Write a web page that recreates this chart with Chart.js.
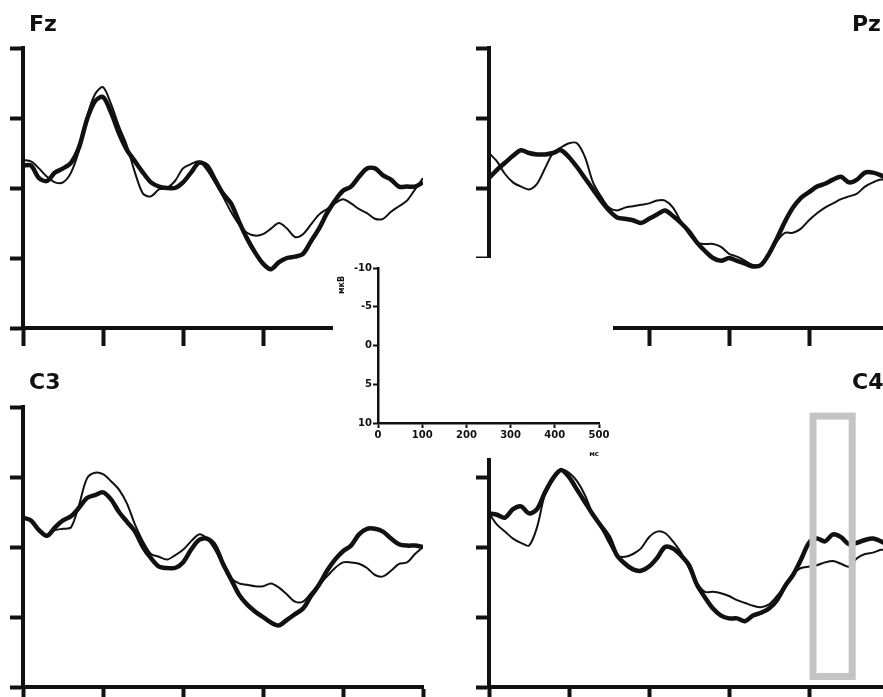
<!DOCTYPE html>
<html lang="ru">
<head>
<meta charset="UTF-8">
<title>ВП: Fz, Pz, C3, C4</title>
<script src="https://cdn.jsdelivr.net/npm/chart.js"></script>
<style>
  html, body { margin: 0; padding: 0; background: #fff; }
  body {
    width: 883px; height: 697px;
    position: relative; overflow: hidden;
    font-family: "DejaVu Sans", Verdana, sans-serif;
  }
  .panel { position: absolute; }
  .lbl {
    position: absolute;
    font-weight: bold; font-size: 22px; line-height: 1;
    color: #111;
  }
  #legendBox { position: absolute; left: 333px; top: 258px; width: 280px; height: 200px; background: #fff; z-index: 2; }
  #ampUnit {
    position: absolute; left: 330px; top: 280px; width: 24px; height: 10px;
    font-weight: bold; font-size: 8px; line-height: 10px; text-align: center; color: #111;
    transform: rotate(-90deg); z-index: 3;
  }
</style>
</head>
<body>
  <div class="panel" style="left:0;top:0;width:440px;height:352px"><canvas id="fz"></canvas></div>
  <div class="panel" style="left:465px;top:0;width:440px;height:352px"><canvas id="pz"></canvas></div>
  <div class="panel" style="left:0;top:352px;width:440px;height:345px"><canvas id="c3"></canvas></div>
  <div class="panel" style="left:465px;top:352px;width:440px;height:345px"><canvas id="c4"></canvas></div>
  <div id="legendBox"><canvas id="scaleRef"></canvas></div>
  <div id="ampUnit">мкВ</div>

  <div class="lbl" style="left:29px;top:13px">Fz</div>
  <div class="lbl" style="left:852px;top:13px">Pz</div>
  <div class="lbl" style="left:29px;top:371px">C3</div>
  <div class="lbl" style="left:852px;top:371px">C4</div>

  <script>
    // time, ms (one point every 10 ms)
    const timeMs = [0, 10, 20, 30, 40, 50, 60, 70, 80, 90, 100, 110, 120, 130, 140, 150, 160, 170, 180, 190, 200,
                    210, 220, 230, 240, 250, 260, 270, 280, 290, 300, 310, 320, 330, 340, 350, 360, 370, 380, 390, 400,
                    410, 420, 430, 440, 450, 460, 470, 480, 490, 500];

    // amplitudes, мкВ (negative is up)
    const fzThick = [-1.6, -1.6, -0.7, -0.5, -1.1, -1.4, -1.8, -2.9, -4.9, -6.2, -6.5, -5.4, -3.9, -2.7, -1.9, -1.1, -0.4, -0.1, 0, 0, -0.4,
                     -1.1, -1.8, -1.6, -0.6, 0.4, 1.1, 2.4, 3.6, 4.6, 5.4, 5.8, 5.3, 5.0, 4.9, 4.7, 3.8, 2.9, 1.8, 0.9, 0.2,
                     -0.1, -0.8, -1.4, -1.4, -0.9, -0.6, -0.1, -0.1, -0.1, -0.4];
    const fzThin = [-2.0, -1.9, -1.4, -0.8, -0.4, -0.4, -1.1, -2.7, -5.1, -6.7, -7.2, -6.0, -4.4, -3.0, -1.1, 0.4, 0.6, 0.1, 0, -0.5, -1.4,
                    -1.7, -1.9, -1.3, -0.4, 0.6, 1.7, 2.6, 3.2, 3.4, 3.3, 2.9, 2.5, 2.9, 3.5, 3.3, 2.6, 1.9, 1.5, 1.1, 0.8,
                    1.1, 1.5, 1.8, 2.2, 2.2, 1.7, 1.3, 0.9, 0.1, -0.7];

    const pzThick = [-0.7, -1.3, -1.8, -2.3, -2.7, -2.5, -2.4, -2.4, -2.5, -2.7, -2.2, -1.5, -0.7, 0.1, 0.9, 1.6, 2.1, 2.2, 2.3, 2.5, 2.2,
                     1.9, 1.6, 2.0, 2.5, 3.1, 3.9, 4.5, 5.0, 5.2, 5.0, 5.2, 5.4, 5.6, 5.5, 4.7, 3.6, 2.4, 1.4, 0.7, 0.3,
                     -0.1, -0.3, -0.6, -0.8, -0.4, -0.6, -1.1, -1.1, -0.9, -0.6];
    const pzThin = [-2.5, -1.9, -1.0, -0.4, -0.1, 0.1, -0.3, -1.4, -2.5, -2.9, -3.2, -3.2, -2.2, -0.4, 0.6, 1.4, 1.6, 1.4, 1.3, 1.2, 1.1,
                    0.9, 0.9, 1.4, 2.4, 3.3, 3.9, 4.0, 4.0, 4.2, 4.7, 4.9, 5.2, 5.5, 5.5, 4.8, 3.8, 3.2, 3.2, 2.9, 2.3,
                    1.8, 1.4, 1.1, 0.8, 0.6, 0.4, -0.1, -0.4, -0.6, -0.5];

    const c3Thick = [-2.1, -1.9, -1.2, -0.8, -1.4, -1.9, -2.2, -2.8, -3.5, -3.7, -3.9, -3.4, -2.5, -1.8, -1.1, 0, 0.8, 1.4, 1.5, 1.5, 1.1,
                     0.2, -0.5, -0.6, -0.1, 1.2, 2.3, 3.4, 4.1, 4.6, 5.0, 5.4, 5.6, 5.2, 4.8, 4.4, 3.5, 2.7, 1.7, 0.9, 0.3,
                     -0.1, -0.9, -1.3, -1.3, -1.1, -0.6, -0.2, -0.1, -0.1, 0];
    const c3Thin = [-2.1, -1.9, -1.2, -0.8, -1.2, -1.3, -1.4, -3.0, -4.9, -5.3, -5.2, -4.7, -4.1, -3.1, -1.6, -0.4, 0.5, 0.7, 0.9, 0.6, 0.2,
                    -0.4, -0.9, -0.6, 0.2, 1.3, 2.2, 2.6, 2.7, 2.8, 2.8, 2.6, 2.9, 3.4, 3.9, 3.9, 3.3, 2.7, 2.1, 1.5, 1.1,
                    1.1, 1.2, 1.5, 2.0, 2.1, 1.7, 1.2, 1.1, 0.5, 0];

    const c4Thick = [-2.4, -2.3, -2.1, -2.7, -2.9, -2.4, -2.7, -3.9, -4.9, -5.5, -5.0, -4.1, -3.2, -2.3, -1.5, -0.7, 0.6, 1.2, 1.6, 1.7, 1.4,
                     0.8, 0, 0.1, 0.6, 1.3, 2.7, 3.6, 4.4, 4.9, 5.1, 5.1, 5.3, 4.9, 4.7, 4.4, 3.8, 2.8, 2.0, 0.9, -0.3,
                     -0.6, -0.4, -0.9, -0.7, -0.2, -0.3, -0.5, -0.6, -0.4, -0.1];
    const c4Thin = [-2.4, -1.6, -1.1, -0.6, -0.3, -0.1, -1.4, -3.8, -4.9, -5.5, -5.3, -4.7, -3.7, -2.3, -1.4, -0.3, 0.6, 0.7, 0.5, 0.1, -0.7,
                    -1.1, -1.0, -0.4, 0.4, 1.5, 2.6, 3.2, 3.2, 3.3, 3.5, 3.8, 4.0, 4.2, 4.3, 4.1, 3.5, 2.8, 1.9, 1.5, 1.4,
                    1.3, 1.1, 1.0, 1.2, 1.4, 0.8, 0.5, 0.4, 0.2, 0.2];

    // highlighted window on C4
    const boxMs = [405, 454];
    const boxMkv = [-9.35, 9.25];

    // scale reference
    const refAmpTicks = [-10, -5, 0, 5, 10];
    const refTimeTicks = [0, 100, 200, 300, 400, 500];

    const ink = '#111';

    const boxPlugin = {
      id: 'box',
      afterDatasetsDraw(chart) {
        const { ctx, scales: { x, y } } = chart;
        const l = x.getPixelForValue(boxMs[0]), r = x.getPixelForValue(boxMs[1]);
        const t = y.getPixelForValue(boxMkv[0]), b = y.getPixelForValue(boxMkv[1]);
        ctx.save();
        ctx.strokeStyle = '#c4c4c4';
        ctx.lineWidth = 7;
        ctx.strokeRect(l, t, r - l, b - t);
        ctx.restore();
      }
    };

    function series(vals) {
      return vals.map((v, i) => ({ x: timeMs[i], y: v }));
    }

    function makePanel(id, thick, thin, pad, yWidth, xHeight, plugins) {
      new Chart(document.getElementById(id), {
        type: 'line',
        data: {
          datasets: [
            { data: series(thin), borderColor: ink, borderWidth: 2, pointRadius: 0, tension: 0.3 },
            { data: series(thick), borderColor: ink, borderWidth: 4.5, pointRadius: 0, tension: 0.3 }
          ]
        },
        options: {
          responsive: true,
          maintainAspectRatio: false,
          animation: false,
          layout: { padding: pad },
          plugins: { legend: { display: false }, tooltip: { enabled: false } },
          scales: {
            x: {
              type: 'linear', min: 0, max: 500,
              ticks: { display: false, stepSize: 100 },
              grid: { drawOnChartArea: false, tickLength: 18, tickWidth: 4, tickColor: ink },
              border: { color: ink, width: 4 },
              afterFit: s => { s.height = xHeight; }
            },
            y: {
              type: 'linear', reverse: true, min: -10, max: 10,
              ticks: { display: false, stepSize: 5 },
              grid: { drawOnChartArea: false, tickLength: 13, tickWidth: 4, tickColor: ink },
              border: { color: ink, width: 4 },
              afterFit: s => { s.width = yWidth; }
            }
          }
        },
        plugins: plugins || []
      });
    }

    makePanel('fz', fzThick, fzThin, { top: 48, right: 17, left: 0, bottom: 0 }, 23, 24);
    makePanel('pz', pzThick, pzThin, { top: 48, right: 16, left: 0, bottom: 0 }, 24, 24);
    makePanel('c3', c3Thick, c3Thin, { top: 55, right: 17, left: 0, bottom: 0 }, 23, 10);
    makePanel('c4', c4Thick, c4Thin, { top: 55, right: 16, left: 0, bottom: 0 }, 24, 10, [boxPlugin]);

    const tickFont = { family: '"DejaVu Sans", Verdana, sans-serif', size: 10, weight: 'bold' };
    const titleFont = { family: '"DejaVu Sans", Verdana, sans-serif', size: 7, weight: 'bold' };

    new Chart(document.getElementById('scaleRef'), {
      type: 'line',
      data: { datasets: [] },
      options: {
        responsive: true,
        maintainAspectRatio: false,
        animation: false,
        layout: { padding: { top: 10, right: 14, left: 0, bottom: 0 } },
        plugins: { legend: { display: false }, tooltip: { enabled: false } },
        scales: {
          x: {
            type: 'linear', min: refTimeTicks[0], max: refTimeTicks[refTimeTicks.length - 1],
            afterBuildTicks: s => { s.ticks = refTimeTicks.map(v => ({ value: v })); },
            ticks: { font: tickFont, color: ink, padding: 1, maxRotation: 0, autoSkip: false },
            grid: { drawOnChartArea: false, tickLength: 5, tickWidth: 2, tickColor: ink },
            border: { color: ink, width: 2.5 },
            title: { display: true, text: 'мс', align: 'end', font: titleFont, color: ink, padding: { top: 4, bottom: 0 } },
            afterFit: s => { s.height = 35; }
          },
          y: {
            type: 'linear', reverse: true, min: refAmpTicks[0], max: refAmpTicks[refAmpTicks.length - 1],
            afterBuildTicks: s => { s.ticks = refAmpTicks.map(v => ({ value: v })); },
            ticks: { font: tickFont, color: ink, padding: 1, autoSkip: false },
            grid: { drawOnChartArea: false, tickLength: 5, tickWidth: 2, tickColor: ink },
            border: { color: ink, width: 2.5 },
            afterFit: s => { s.width = 45; }
          }
        }
      }
    });
  </script>
</body>
</html>
